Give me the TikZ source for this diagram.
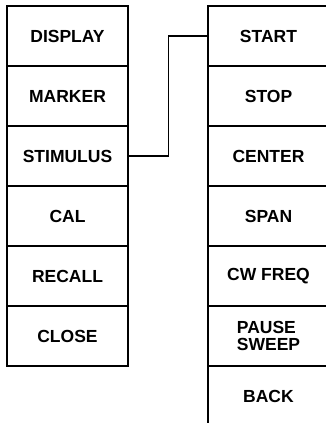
\documentclass[tikz,border=0pt]{standalone}
\usepackage{fontspec}
\setmainfont{Liberation Sans}
\begin{document}
\begin{tikzpicture}[x=1pt,y=-1pt,
  keybox/.style={draw=black, line width=1.5pt, rectangle, minimum width=121pt, minimum height=60pt,
    inner sep=0pt, outer sep=0pt, font=\fontsize{17.5}{16.5}\selectfont\bfseries, align=left},
  link/.style={draw=black, line width=1.5pt}]
\useasboundingbox (0,0) rectangle (325,423);
% left menu
\node[keybox] (display) at (67.5,36) {DISPLAY};
\node[keybox] (marker) at (67.5,96) {MARKER};
\node[keybox] (stim) at (67.5,156) {STIMULUS};
\node[keybox] (cal) at (67.5,216) {CAL};
\node[keybox] (recall) at (67.5,276) {RECALL};
\node[keybox] (close) at (67.5,336) {CLOSE};
% right menu
\node[keybox] (start) at (268.5,36) {START};
\node[keybox] (stop) at (268.5,96) {STOP};
\node[keybox] (center) at (268.5,156) {CENTER};
\node[keybox] (span) at (268.5,216) {SPAN};
\node[keybox] (cw) at (268.5,276) {CW FREQ};
\node[keybox] (pause) at (268.5,336) {PAUSE\\SWEEP};
\node[keybox] (back) at (268.5,396) {BACK};
% connector
\draw[link] (stim.east) -- ++(40.5,0) |- (start.west);
\end{tikzpicture}
\end{document}
